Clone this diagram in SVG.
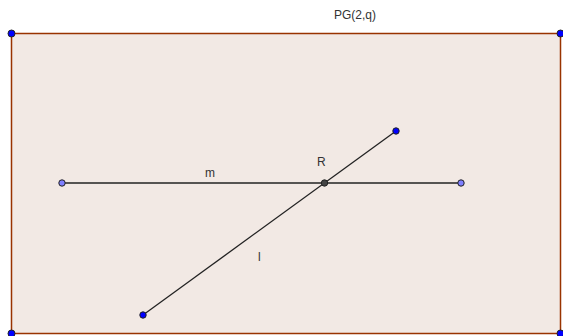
<svg xmlns="http://www.w3.org/2000/svg" width="563" height="336" viewBox="0 0 563 336">
<style>
.lbl{font-family:"Liberation Sans",Arial,sans-serif;font-size:12px;fill:#333}
.ln{stroke:#222;stroke-width:1.3;fill:none}
.pt{stroke:#222;stroke-width:1}
</style>
<rect width="563" height="336" fill="#ffffff"/>
<g id="plane">
<rect x="11.5" y="33.5" width="549" height="300" fill="#f2e9e4" stroke="#993300" stroke-width="1.5"/>
<circle class="pt" cx="11.5" cy="33.5" r="3.5" fill="#0000ff"/>
<circle class="pt" cx="560.5" cy="33.5" r="3.5" fill="#0000ff"/>
<circle class="pt" cx="11.5" cy="333.5" r="3.5" fill="#0000ff"/>
<circle class="pt" cx="560.5" cy="333.5" r="3.5" fill="#0000ff"/>
<text class="lbl" x="334" y="19">PG(2,q)</text>
</g>
<g id="connectors">
<line id="m" class="ln" x1="62" y1="183" x2="461" y2="183"/>
<line id="l" class="ln" x1="143" y1="315" x2="396" y2="131"/>
</g>
<g id="m-ends">
<circle class="pt" cx="62" cy="183" r="3.2" fill="#7f7fff"/>
<circle class="pt" cx="461" cy="183" r="3.2" fill="#7f7fff"/>
<text class="lbl" x="205" y="177">m</text>
</g>
<g id="l-ends">
<circle class="pt" cx="143" cy="315" r="3.2" fill="#0000ff"/>
<circle class="pt" cx="396" cy="131" r="3.2" fill="#0000ff"/>
<text class="lbl" x="258" y="261">l</text>
</g>
<g id="R">
<circle class="pt" cx="324.5" cy="183" r="3.2" fill="#444444"/>
<text class="lbl" x="317" y="166">R</text>
</g>
</svg>
